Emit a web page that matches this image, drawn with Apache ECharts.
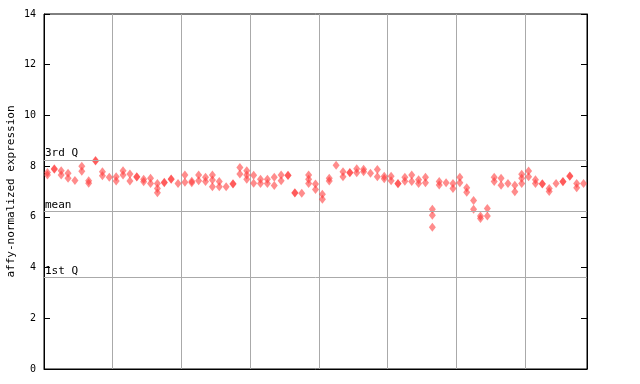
<!DOCTYPE html>
<html><head><meta charset="utf-8">
<script src="https://cdn.jsdelivr.net/npm/echarts@6/dist/echarts.min.js"></script>
<style>html,body{margin:0;padding:0;background:#fff}#c{width:640px;height:384px}</style>
</head><body><div id="c"></div>
<script>
const rep1 = [7.75,7.9,7.82,7.72,7.43,8.0,7.42,8.22,7.78,7.56,7.58,7.82,7.69,7.58,7.48,7.52,7.32,7.36,7.49,7.32,
7.65,7.35,7.65,7.56,7.65,7.39,7.19,7.31,7.95,7.82,7.64,7.48,7.48,7.56,7.65,7.64,6.95,6.93,7.65,7.3,
6.89,7.41,8.04,7.78,7.75,7.74,7.78,7.72,7.87,7.5,7.6,7.32,7.56,7.65,7.46,7.56,6.3,7.39,7.35,7.32,
7.56,7.15,6.65,5.94,6.33,7.56,7.52,7.32,7.25,7.68,7.81,7.46,7.31,7.12,7.32,7.39,7.61,7.32,7.32];
const rep2 = [7.65,7.88,7.65,7.52,null,7.8,7.33,8.2,7.62,null,7.41,7.65,7.41,7.57,7.38,7.32,7.12,7.35,7.48,null,
7.36,7.4,7.42,7.39,7.45,7.19,null,7.3,7.69,7.65,7.33,7.32,7.32,7.24,7.42,7.63,6.94,null,7.48,7.08,
6.69,7.52,null,7.58,7.74,7.9,7.88,null,7.58,7.6,7.42,7.31,7.4,7.39,7.32,7.35,6.06,7.26,null,7.12,
7.35,6.97,6.3,6.03,6.03,7.39,7.25,null,6.99,7.52,7.58,7.32,7.3,7.0,null,7.38,7.6,7.15,null];
const rep3 = [null,null,null,null,null,null,null,null,null,null,null,null,null,null,null,null,6.95,null,null,null,
null,null,null,null,7.19,null,null,null,null,7.48,null,null,null,null,null,null,null,null,7.32,null,
null,null,null,null,null,null,null,null,null,null,null,null,null,null,null,null,5.59,null,null,null,
null,null,null,null,null,null,null,null,null,7.32,null,null,null,null,null,null,null,null,null];
const refNames = ['3rd Q','mean','1st Q'];
const refValues = [8.24,6.22,3.62];
const yTicks = {min:0,max:14,interval:2};
const nSamples = rep1.length;

const mono = 'DejaVu Sans Mono';
function pts(arr){ const o=[]; arr.forEach((v,i)=>{ if(v!==null) o.push([i+0.5,v]); }); return o; }
const dotColor = 'rgba(255,55,55,0.72)';
function sc(arr, extra){ return Object.assign({type:'scatter',symbol:'diamond',symbolSize:[7,9],
  itemStyle:{color:dotColor},data:pts(arr),silent:true,animation:false}, extra||{}); }

const chart = echarts.init(document.getElementById('c'),null,{renderer:'canvas'});
chart.setOption({
  animation:false,
  grid:{left:44,right:53,top:14,bottom:15,containLabel:false,outerBoundsMode:'none',
    show:true,borderColor:'#000',borderWidth:1,backgroundColor:'transparent'},
  xAxis:{type:'value',min:0,max:nSamples,interval:10,
    axisLine:{show:true,lineStyle:{color:'#000'}},axisTick:{show:false},axisLabel:{show:false},
    splitLine:{show:true,lineStyle:{color:'#aaaaaa',width:1}}},
  yAxis:[{type:'value',min:yTicks.min,max:yTicks.max,interval:yTicks.interval,
    name:'affy-normalized expression',nameLocation:'middle',nameGap:27,nameMoveOverlap:false,
    nameTextStyle:{fontFamily:mono,fontSize:11,color:'#000'},
    axisLine:{show:true,lineStyle:{color:'#000'}},
    axisTick:{show:true,inside:true,length:6,lineStyle:{color:'#000'}},
    axisLabel:{fontFamily:mono,fontSize:10,color:'#000',margin:8},
    splitLine:{show:false}},
   {type:'value',position:'right',min:yTicks.min,max:yTicks.max,interval:yTicks.interval,
    axisLine:{show:true,lineStyle:{color:'#000'}},
    axisTick:{show:true,inside:true,length:6,lineStyle:{color:'#000'}},
    axisLabel:{show:false},splitLine:{show:false}}],
  series:[
    sc(rep1,{markLine:{silent:true,symbol:'none',animation:false,
      lineStyle:{color:'#aaaaaa',width:1,type:'solid'},
      label:{position:'insideStartTop',distance:[1,1],fontFamily:mono,fontSize:11,color:'#000',
        formatter:p=>p.name},
      data:refValues.map((v,i)=>({name:refNames[i],yAxis:v}))}}),
    sc(rep2), sc(rep3)
  ]
});
</script></body></html>
